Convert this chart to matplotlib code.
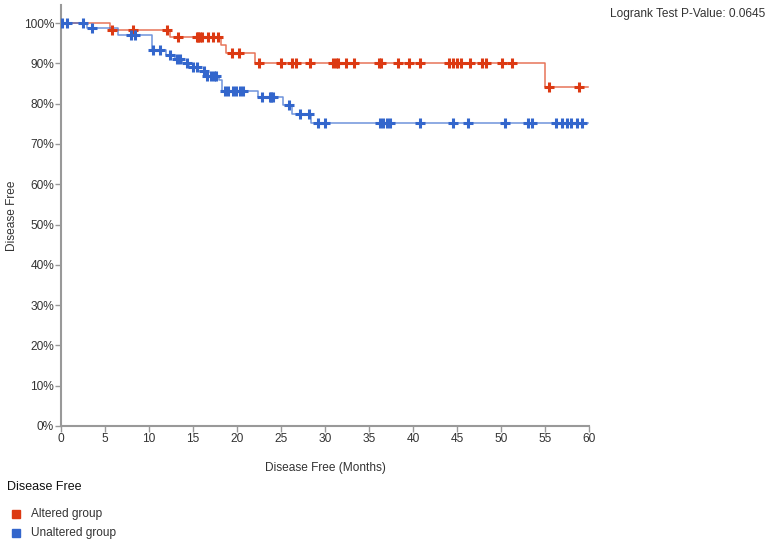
import numpy as np
import matplotlib
matplotlib.use('Agg')
import matplotlib.pyplot as plt
from matplotlib.patches import Rectangle

# Kaplan-Meier steps (months, % disease free)
altered_step_t = [0, 5.6, 12.4, 18.2, 18.8, 22.1, 55.0, 59.9]
altered_step_s = [100, 98.4, 96.6, 94.6, 92.6, 90.2, 84.2, 84.2]
altered_censor_t = [5.8, 8.2, 12.1, 13.3, 15.4, 15.6, 15.8, 16.0, 16.7, 17.3, 17.8,
                    19.4, 20.2, 22.5, 25.0, 26.2, 26.7, 28.3, 30.9, 31.3, 31.5, 32.4,
                    33.3, 36.1, 36.4, 38.3, 39.5, 40.8, 44.1, 44.6, 45.0, 45.5, 46.5,
                    47.8, 48.3, 50.1, 51.3, 55.5, 58.9]

unaltered_step_t = [0, 2.9, 6.5, 10.3, 11.9, 13.0, 13.8, 14.6, 15.6, 16.3, 17.9, 18.3,
                    22.4, 25.2, 26.3, 28.4, 59.9]
unaltered_step_s = [100, 98.8, 97.0, 93.3, 92.2, 91.2, 90.2, 89.1, 88.0, 86.9, 85.8, 83.1,
                    81.7, 79.7, 77.4, 75.1, 75.1]
unaltered_censor_t = [0.15, 0.65, 2.5, 3.5, 8.0, 8.4, 10.5, 11.3, 12.4, 13.2, 13.5, 14.3,
                      15.0, 15.4, 16.2, 16.6, 17.0, 17.4, 17.6, 18.6, 19.0, 19.6, 19.9,
                      20.3, 20.7, 22.8, 23.7, 23.9, 24.1, 25.9, 27.2, 28.2, 29.2, 30.0,
                      36.3, 36.6, 37.0, 37.4, 40.8, 44.5, 46.3, 50.5, 53.1, 53.5, 56.3,
                      56.9, 57.5, 58.0, 58.6, 59.2]

groups = ['Altered group', 'Unaltered group']
colors = ['#dc3912', '#3366cc']
x_ticks = list(range(0, 61, 5))
y_ticks = list(range(0, 101, 10))
p_value = '0.0645'

plt.rcParams['font.family'] = ['Liberation Sans', 'DejaVu Sans']
text_color = '#333333'
axis_color = '#999999'

fig = plt.figure(figsize=(7.71, 5.45), dpi=100)
ax = fig.add_axes([61 / 771, 119 / 545, 528 / 771, 421 / 545])


def level_at(step_t, step_s, t):
    idx = np.searchsorted(step_t, t, side='right') - 1
    return np.array(step_s)[idx]


series = [
    (altered_step_t, altered_step_s, altered_censor_t),
    (unaltered_step_t, unaltered_step_s, unaltered_censor_t),
]
for (st, ss, ct), color in zip(series, colors):
    ax.step(st, ss, where='post', color=color, lw=1.1, alpha=0.7, zorder=2)
    ax.plot(ct, level_at(st, ss, ct), linestyle='none', marker='+', ms=7,
            mew=2.2, color=color, zorder=3)

ax.set_xlim(0, 60)
ax.set_ylim(0, 104.5)
ax.set_xticks(x_ticks)
ax.set_yticks(y_ticks)
ax.set_yticklabels([f'{v}%' for v in y_ticks])
for side in ['top', 'right']:
    ax.spines[side].set_visible(False)
for side in ['left', 'bottom']:
    ax.spines[side].set_color(axis_color)
    ax.spines[side].set_linewidth(1.5)
ax.tick_params(direction='out', length=4, width=1, color=axis_color,
               labelsize=8.6, labelcolor=text_color, pad=1)

ax.set_xlabel('Disease Free (Months)', fontsize=8.6, color=text_color, labelpad=12)
ax.set_ylabel('Disease Free', fontsize=8.6, color=text_color, labelpad=4)

fig.text(765 / 771, 1 - 14 / 545, f'Logrank Test P-Value: {p_value}', ha='right',
         va='center', fontsize=8.6, color=text_color)

# legend below the plot
fig.text(7 / 771, 1 - 487 / 545, 'Disease Free', ha='left', va='center',
         fontsize=9, color='#111111')
for i, (name, color) in enumerate(zip(groups, colors)):
    yc = 514 + i * 19
    fig.patches.append(Rectangle((12 / 771, 1 - (yc + 4) / 545), 8 / 771, 8 / 545,
                                 transform=fig.transFigure, color=color))
    fig.text(31 / 771, 1 - yc / 545, name, ha='left', va='center',
             fontsize=8.6, color=text_color)

fig.savefig('out.png', dpi=100)
